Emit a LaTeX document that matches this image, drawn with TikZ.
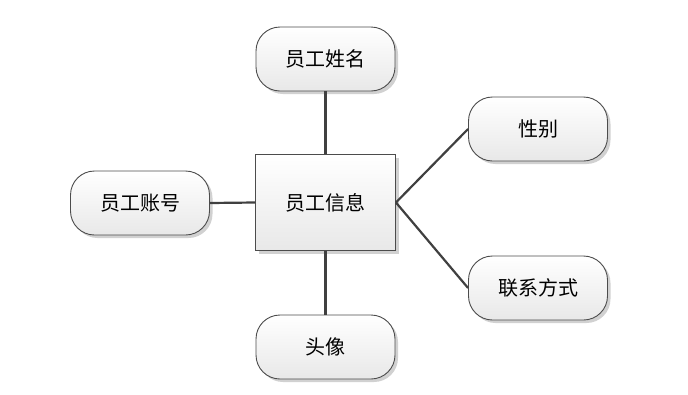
\documentclass[tikz,border=0pt]{standalone}
\usepackage{fontspec}
\newfontfamily\cjk{Noto Sans CJK SC}
\usetikzlibrary{shadows}
\begin{document}
\begin{tikzpicture}[x=1pt,y=-1pt,
  box/.style={draw=black!70, line width=0.9pt, top color=white, bottom color=black!9,
    drop shadow={shadow xshift=3pt, shadow yshift=-3pt, fill=black!18, opacity=1},
    font=\cjk\fontsize{20}{22}\selectfont, inner sep=0pt},
  entity/.style={box, minimum width=140pt, minimum height=96pt},
  attr/.style={box, rounded corners=24pt, minimum width=139pt, minimum height=64pt},
  link/.style={draw=black!75, line width=2.2pt}]
\useasboundingbox (0,0) rectangle (688,394);
\node[entity] (info) at (325.5,202.5) {员工信息};
\node[attr] (name) at (325.5,59) {员工姓名};
\node[attr] (acct) at (140,203) {员工账号};
\node[attr] (photo) at (325.5,347) {头像};
\node[attr] (sex) at (538,129) {性别};
\node[attr] (contact) at (538,288) {联系方式};
\draw[link] (name.south) -- (info.north);
\draw[link] (acct.east) -- (info.west);
\draw[link] (info.south) -- (photo.north);
\draw[link] (info.east) -- (sex.west);
\draw[link] (info.east) -- (contact.west);
\end{tikzpicture}
\end{document}
